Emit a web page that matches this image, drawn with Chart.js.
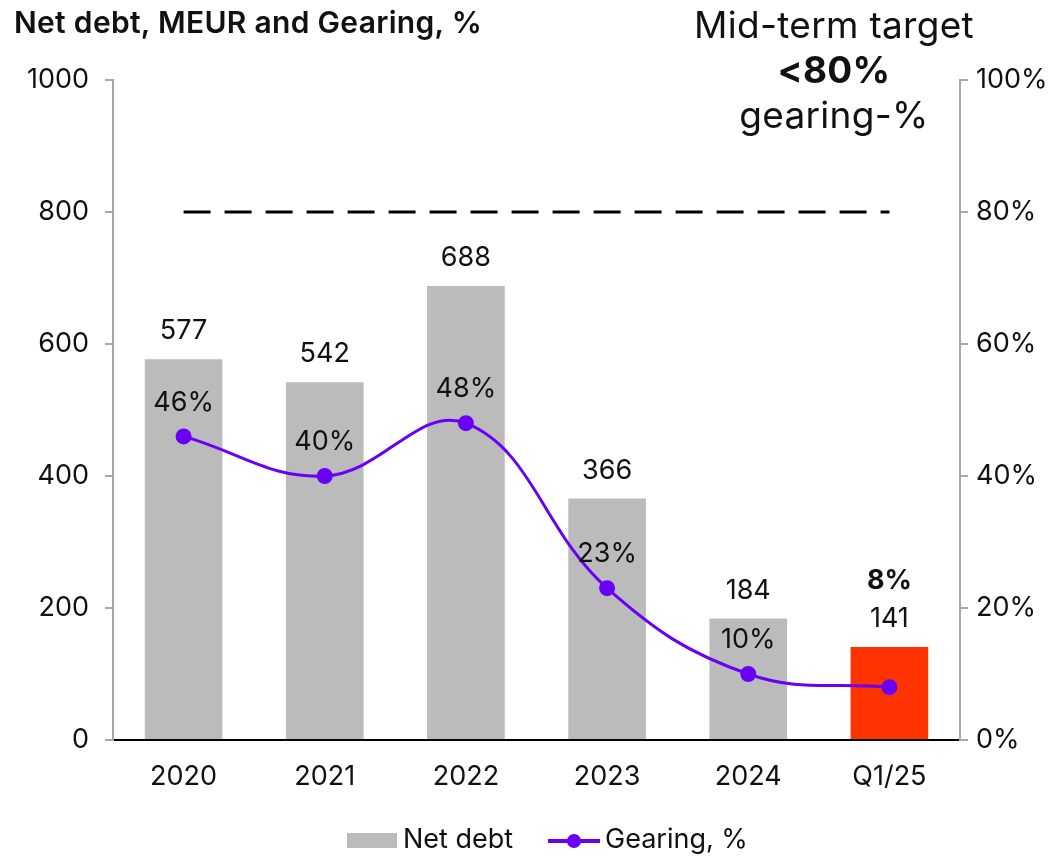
<!DOCTYPE html>
<html>
<head>
<meta charset="utf-8">
<script src="https://cdn.jsdelivr.net/npm/chart.js@4.4.1/dist/chart.umd.min.js"></script>
<style>
  html, body { margin: 0; padding: 0; background: #fff; }
  #wrap { position: relative; width: 1064px; height: 856px; font-family: Inter, "Open Sans", sans-serif; color: #111; }
  #chart { position: absolute; left: 0; top: 0; }
  .title { position: absolute; left: 14px; top: 4px; font-size: 30px; font-weight: 600; letter-spacing: 0.3px; white-space: nowrap; }
  .target { position: absolute; left: 634px; width: 400px; top: 2px; text-align: center; font-size: 37px; line-height: 45px; letter-spacing: 0.3px; }
  .target b { font-weight: 700; }
  .legend { position: absolute; top: 822px; left: 0; width: 1064px; height: 36px; font-size: 27px; }
  .legend > * { position: absolute; white-space: nowrap; }
  .legend .box { left: 347px; top: 11px; width: 50px; height: 15px; background: #bbbbbb; }
  .legend .t1 { left: 403px; top: 0; }
  .legend .ln { left: 548px; top: 17px; width: 52px; height: 4px; background: #6a00f4; }
  .legend .ln::after { content: ""; position: absolute; left: 19px; top: -5px; width: 14px; height: 14px; border-radius: 50%; background: #6a00f4; }
  .legend .t2 { left: 605px; top: 0; }
</style>
</head>
<body>
<div id="wrap">
  <canvas id="chart" width="1064" height="856"></canvas>
  <div class="title">Net debt, MEUR and Gearing, %</div>
  <div class="target">Mid-term target<br><b>&lt;80%</b><br>gearing-%</div>
  <div class="legend"><span class="box"></span><span class="t1">Net debt</span><span class="ln"></span><span class="t2">Gearing, %</span></div>
</div>
<script>
const categories = ['2020', '2021', '2022', '2023', '2024', 'Q1/25'];
const netDebt = [577, 542, 688, 366, 184, 141];
const gearing = [46, 40, 48, 23, 10, 8];
const targetGearing = [80, 80, 80, 80, 80, 80];
const leftTicks = [0, 200, 400, 600, 800, 1000];
const rightTicks = [0, 20, 40, 60, 80, 100];

const barColors = netDebt.map((_, i) => i === netDebt.length - 1 ? '#ff3300' : '#bbbbbb');
const FONT = 'Inter, "Open Sans", sans-serif';
const FS = 27;

const valueLabels = {
  id: 'valueLabels',
  afterDatasetsDraw(chart) {
    const ctx = chart.ctx;
    const barMeta = chart.getDatasetMeta(0);
    const lineMeta = chart.getDatasetMeta(1);
    ctx.save();
    ctx.textAlign = 'center';
    ctx.textBaseline = 'middle';
    ctx.fillStyle = '#111';
    const last = netDebt.length - 1;
    barMeta.data.forEach((bar, i) => {
      ctx.font = '400 ' + FS + 'px ' + FONT;
      ctx.fillText(String(netDebt[i]), bar.x, bar.y - 28);
    });
    lineMeta.data.forEach((pt, i) => {
      if (i === last) {
        const bar = barMeta.data[i];
        ctx.font = '700 ' + FS + 'px ' + FONT;
        ctx.fillText(gearing[i] + '%', pt.x, bar.y - 66);
      } else {
        ctx.font = '400 ' + FS + 'px ' + FONT;
        ctx.fillText(gearing[i] + '%', pt.x, pt.y - 34);
      }
    });
    ctx.restore();
  }
};

new Chart(document.getElementById('chart'), {
  data: {
    labels: categories,
    datasets: [
      {
        type: 'bar',
        label: 'Net debt',
        data: netDebt,
        backgroundColor: barColors,
        yAxisID: 'y',
        barPercentage: 0.55,
        categoryPercentage: 1,
        order: 2
      },
      {
        type: 'line',
        label: 'Gearing, %',
        data: gearing,
        borderColor: '#6a00f4',
        backgroundColor: '#6a00f4',
        borderWidth: 3,
        pointRadius: 6.5,
        pointHoverRadius: 6.5,
        tension: 0.4,
        yAxisID: 'y2',
        order: 0
      },
      {
        type: 'line',
        label: 'Target',
        data: targetGearing,
        borderColor: '#000',
        borderWidth: 3,
        borderDash: [27, 14],
        pointRadius: 0,
        yAxisID: 'y2',
        order: 1
      }
    ]
  },
  options: {
    responsive: false,
    animation: false,
    layout: { padding: { top: 80, left: 0, right: 0, bottom: 0 } },
    plugins: { legend: { display: false }, tooltip: { enabled: false } },
    scales: {
      x: {
        grid: { display: false, drawTicks: false },
        border: { color: '#000', width: 2 },
        ticks: { color: '#111', font: { family: FONT, size: FS }, padding: 21 },
        afterFit(s) { s.height = 116; }
      },
      y: {
        position: 'left',
        min: 0, max: 1000,
        afterBuildTicks(s) { s.ticks = leftTicks.map(v => ({ value: v })); },
        grid: { drawOnChartArea: false, drawTicks: true, tickLength: 8, color: '#a6a6a6', lineWidth: 2 },
        border: { color: '#a6a6a6', width: 2 },
        ticks: { color: '#111', font: { family: FONT, size: FS }, padding: 16, callback: v => String(v) },
        afterFit(s) { s.width = 113; }
      },
      y2: {
        position: 'right',
        min: 0, max: 100,
        afterBuildTicks(s) { s.ticks = rightTicks.map(v => ({ value: v })); },
        grid: { drawOnChartArea: false, drawTicks: true, tickLength: 8, color: '#a6a6a6', lineWidth: 2 },
        border: { color: '#a6a6a6', width: 2 },
        ticks: { color: '#111', font: { family: FONT, size: FS }, padding: 8, callback: v => v + '%' },
        afterFit(s) { s.width = 104; }
      }
    }
  },
  plugins: [valueLabels]
});
</script>
</body>
</html>
